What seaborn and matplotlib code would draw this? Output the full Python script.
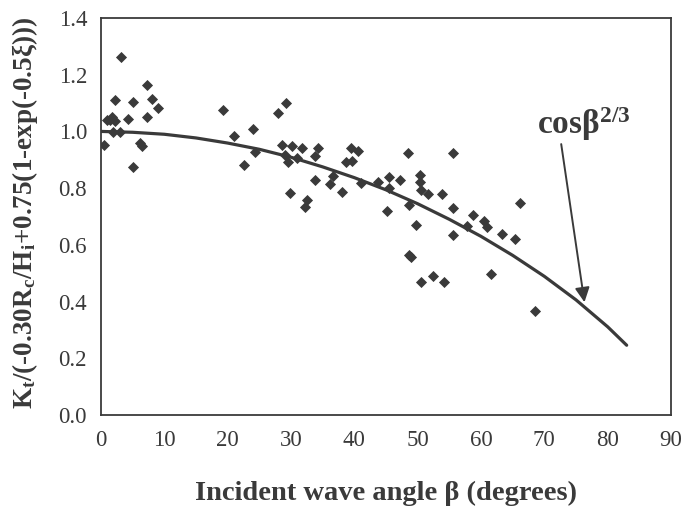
import numpy as np
import pandas as pd
import seaborn as sns
import matplotlib
matplotlib.use('Agg')
import matplotlib.pyplot as plt
from matplotlib.ticker import MultipleLocator

beta = [0.5, 0.9, 1.4, 1.7, 1.9, 2.2, 2.2, 3.0, 3.2, 4.2, 5.0, 5.1, 6.2, 6.4, 7.2, 7.2, 8.1, 9.0,
        19.3, 21.0, 22.6, 24.0, 24.3, 28.0, 28.5, 29.1, 29.2, 29.6, 29.9, 30.1, 30.9, 31.7, 32.2, 32.5,
        33.8, 33.8, 34.3, 36.2, 36.7, 38.0, 38.7, 39.6, 39.5, 40.5, 41.0, 43.8, 45.2, 45.4, 45.4, 47.2,
        48.5, 48.7, 48.6, 49.0, 49.7, 50.4, 50.4, 50.5, 50.6, 51.7, 52.4, 53.8, 54.1, 55.5, 55.5, 55.6,
        57.8, 58.8, 60.4, 61.0, 61.6, 63.3, 65.4, 66.1, 68.5]
kt_ratio = [0.952, 1.040, 1.040, 1.052, 0.999, 1.111, 1.037, 0.999, 1.263, 1.044, 0.876, 1.103, 0.958, 0.948, 1.052, 1.164, 1.114, 1.081,
            1.075, 0.984, 0.882, 1.008, 0.926, 1.066, 0.952, 0.917, 1.099, 0.893, 0.782, 0.949, 0.905, 0.940, 0.735, 0.758,
            0.913, 0.829, 0.940, 0.814, 0.843, 0.786, 0.893, 0.896, 0.940, 0.930, 0.817, 0.823, 0.720, 0.840, 0.799, 0.829,
            0.923, 0.740, 0.565, 0.556, 0.670, 0.846, 0.823, 0.470, 0.793, 0.778, 0.490, 0.779, 0.470, 0.923, 0.729, 0.635,
            0.666, 0.705, 0.685, 0.664, 0.497, 0.638, 0.620, 0.749, 0.367]

# cos(beta)^(2/3) curve as drawn
curve_beta = [0, 5, 10, 15, 20, 25, 30, 35, 40, 45, 50, 55, 60, 65, 70, 75, 80, 83]
curve_val = [1.0, 0.997, 0.990, 0.977, 0.959, 0.937, 0.909, 0.875, 0.837, 0.794, 0.745, 0.690,
             0.630, 0.563, 0.489, 0.406, 0.311, 0.246]

df = pd.DataFrame({'beta': beta, 'kt': kt_ratio})
df_curve = pd.DataFrame({'beta': curve_beta, 'val': curve_val})

sns.set_style('white')
plt.rcParams['font.family'] = ['Liberation Serif', 'DejaVu Serif']
plt.rcParams['mathtext.fontset'] = 'custom'
plt.rcParams['mathtext.rm'] = 'Liberation Serif:bold'
plt.rcParams['mathtext.it'] = 'Liberation Serif:bold'
plt.rcParams['mathtext.bf'] = 'Liberation Serif:bold'
plt.rcParams['mathtext.default'] = 'rm'

ink = '#3a3a3a'

fig = plt.figure(figsize=(6.85, 5.13), dpi=100)
ax = fig.add_axes([101/685, 1-415/513, 570/685, 397/513])

sns.scatterplot(x='beta', y='kt', data=df, marker='D', s=32, color=ink,
                linewidth=0, ax=ax, legend=False)
sns.lineplot(x='beta', y='val', data=df_curve, color=ink, linewidth=2.3, ax=ax)

ax.set_xlim(0, 90)
ax.set_ylim(0, 1.4)
ax.xaxis.set_minor_locator(MultipleLocator(2))
ax.yaxis.set_minor_locator(MultipleLocator(0.04))
ax.set_xticks(np.arange(0, 91, 10))
ax.set_xticklabels([str(v) for v in range(0, 91, 10)])
ax.set_yticks(np.arange(0, 1.41, 0.2))
ax.set_yticklabels(['%.1f' % v for v in np.arange(0, 1.41, 0.2)])
ax.tick_params(which='both', direction='in', length=5, width=1.2, color=ink,
               labelsize=16.5, labelcolor=ink)
ax.tick_params(axis='x', pad=11)
ax.tick_params(axis='y', pad=10)
for sp in ax.spines.values():
    sp.set_color(ink)
    sp.set_linewidth(1.3)

ax.set_xlabel('Incident wave angle β (degrees)', fontsize=20.5, fontweight='bold', color=ink)
ax.xaxis.set_label_coords(0.5, -0.165)
ax.set_ylabel(r'K$_{t}$/(-0.30R$_{c}$/H$_{i}$+0.75(1-exp(-0.5ξ)))', fontsize=19.5,
              fontweight='bold', color=ink, va='center')
ax.yaxis.set_label_coords(-0.133, 0.51)

ax.annotate('', xy=(76.4, 0.388), xytext=(72.6, 0.965),
            arrowprops=dict(arrowstyle='-|>', color=ink, lw=1.4, mutation_scale=22))
ax.text(68.9, 0.99, r'cosβ$^{2/3}$', fontsize=24, fontweight='bold', color=ink,
        ha='left', va='baseline')

fig.savefig('out.png', dpi=100)
